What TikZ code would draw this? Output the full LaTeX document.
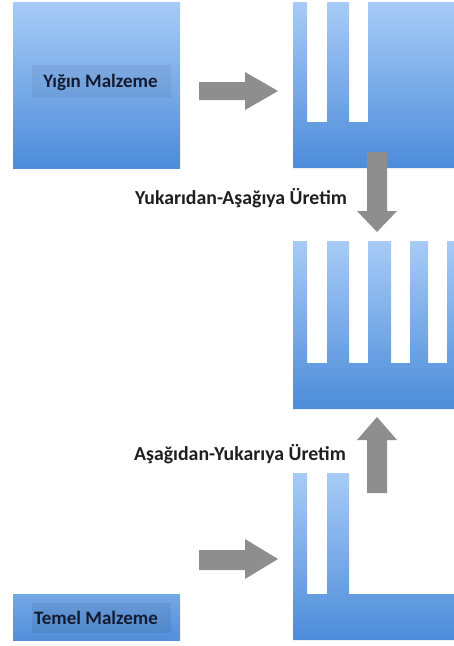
\documentclass[tikz,border=0pt]{standalone}
\usepackage{fontspec}
\setmainfont{Carlito}
\definecolor{bluetop}{HTML}{A8CBF7}
\definecolor{bluebot}{HTML}{4C8CD9}
\definecolor{arrowgray}{HTML}{8E8E8E}
\definecolor{labelink}{HTML}{141B30}
\tikzset{
  x=1pt, y=-1pt,
  block/.style={top color=bluetop, bottom color=bluebot, draw=none},
  grayarrow/.style={fill=arrowgray, draw=none},
  labelbox/.style={fill=black, fill opacity=0.05, draw=none},
  labeltext/.style={font=\fontsize{19}{23}\selectfont\bfseries, text=labelink, inner sep=0pt},
  captext/.style={font=\fontsize{19.8}{24}\selectfont\bfseries, text=black!88, inner sep=0pt}
}
\begin{document}
\begin{tikzpicture}
\useasboundingbox (0,0) rectangle (454,646);
% top-left bulk block
\path[block] (13,2) rectangle (180,168);
\path[labelbox] (32,65) rectangle (171,98);
\node[labeltext] (bulk) at (100.5,82) {Yığın Malzeme};
% top-right carved block
\path[block] (293,2) -- (307,2) -- (307,122) -- (327,122) -- (327,2) -- (349,2) -- (349,122) -- (368,122) -- (368,2) -- (454,2) -- (454,168) -- (293,168) -- cycle;
% middle comb block
\path[block] (293,241) -- (307,241) -- (307,363) -- (327,363) -- (327,241) -- (349,241) -- (349,363) -- (368,363) -- (368,241) -- (391,241) -- (391,363) -- (410,363) -- (410,241) -- (428,241) -- (428,363) -- (447,363) -- (447,241) -- (454,241) -- (454,409) -- (293,409) -- cycle;
% bottom-right grown block
\path[block] (293,473) -- (307,473) -- (307,594) -- (327,594) -- (327,473) -- (349,473) -- (349,594) -- (454,594) -- (454,640) -- (293,640) -- cycle;
% bottom-left base
\path[top color=bluetop!45!bluebot, bottom color=bluebot!95!bluetop] (13,594) rectangle (180,640);
\path[fill=black, fill opacity=0.07] (32,603) rectangle (171,633);
\node[labeltext] (base) at (96,618) {Temel Malzeme};
% arrows
\path[grayarrow] (199,82) -- (245,82) -- (245,72) -- (278,91) -- (245,110) -- (245,100) -- (199,100) -- cycle;
\path[grayarrow] (199,550) -- (245,550) -- (245,539) -- (278,559) -- (245,579) -- (245,570) -- (199,570) -- cycle;
\path[grayarrow] (367,152) -- (387,152) -- (387,211) -- (397,211) -- (377,232) -- (357,211) -- (367,211) -- cycle;
\path[grayarrow] (367,493) -- (387,493) -- (387,440) -- (397,440) -- (377,417) -- (357,440) -- (367,440) -- cycle;
% captions
\node[captext] (top) at (241,198) {Yukarıdan-Aşağıya Üretim};
\node[captext] (bottom) at (240,454) {Aşağıdan-Yukarıya Üretim};
\end{tikzpicture}
\end{document}
